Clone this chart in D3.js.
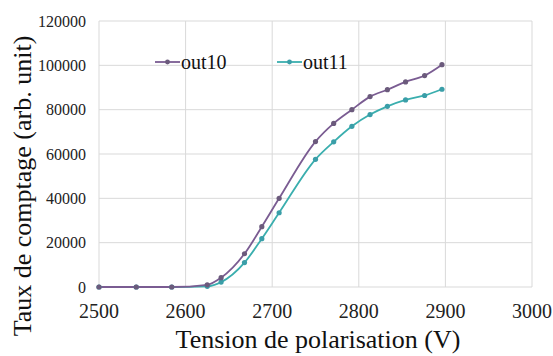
<!DOCTYPE html>
<html><head><meta charset="utf-8">
<script src="https://cdn.jsdelivr.net/npm/d3@7"></script>
<style>#c text{font-family:"Liberation Serif","Times New Roman",serif !important;}</style>
</head><body style="margin:0">
<svg id="c" width="553" height="356"></svg>
<script>
const voltages = [2500, 2543, 2584, 2625, 2641, 2668, 2688, 2708, 2750, 2771, 2792, 2813, 2833, 2854, 2876, 2896];
const out10 = [0, 0, 0, 1000, 4200, 15000, 27200, 40000, 65600, 73800, 80000, 85900, 89000, 92500, 95400, 100300];
const out11 = [0, 0, 0, 300, 2200, 11000, 21800, 33500, 57600, 65500, 72500, 77800, 81500, 84400, 86400, 89200];
const seriesNames = ["out10", "out11"];
const xTicks = [2500, 2600, 2700, 2800, 2900, 3000];
const yTicks = [0, 20000, 40000, 60000, 80000, 100000, 120000];
const xTitle = "Tension de polarisation (V)";
const yTitle = "Taux de comptage (arb. unit)";

const colors = {out10: "#7a5c92", out11: "#3aaeae"};
const markerColors = {out10: "#6b5a7c", out11: "#3a9ea8"};
const seriesData = {out10, out11};

const svg = d3.select("#c");
const x = d3.scaleLinear().domain([2500, 3000]).range([99, 532]);
const y = d3.scaleLinear().domain([0, 120000]).range([287, 21]);
const FONT = '"Liberation Serif", "Times New Roman", serif';

function addText(sel, size) {
  return sel.attr("font-family", FONT).style("font-family", FONT, "important").style("font-size", size + "px");
}

// grid
svg.append("g").selectAll("line").data(yTicks).join("line")
  .attr("x1", x(2500)).attr("x2", x(3000))
  .attr("y1", d => y(d)).attr("y2", d => y(d))
  .attr("stroke", "#d9d9d9").attr("stroke-width", 1);
svg.append("g").selectAll("line").data(xTicks).join("line")
  .attr("y1", y(0)).attr("y2", y(120000))
  .attr("x1", d => x(d)).attr("x2", d => x(d))
  .attr("stroke", "#d9d9d9").attr("stroke-width", 1);

// tick labels via scales
svg.append("g").selectAll("text").data(xTicks).join("text")
  .attr("x", d => x(d)).attr("y", 318).attr("text-anchor", "middle").attr("fill", "#222")
  .call(addText, 20).text(d => d);
svg.append("g").selectAll("text").data(yTicks).join("text")
  .attr("x", 86).attr("y", d => y(d)).attr("dy", "0.35em").attr("text-anchor", "end").attr("fill", "#222")
  .call(addText, 16).text(d => d);

// titles
svg.append("text").attr("x", 318).attr("y", 348).attr("text-anchor", "middle").attr("fill", "#111")
  .call(addText, 26).text(xTitle);
svg.append("text").attr("transform", "translate(31,186) rotate(-90)").attr("text-anchor", "middle").attr("fill", "#111")
  .call(addText, 26).text(yTitle);

// lines
const line = d3.line().x((d, i) => x(voltages[i])).y(d => y(d)).curve(d3.curveMonotoneX);
seriesNames.slice().reverse().forEach(name => {
  svg.append("path").datum(seriesData[name]).attr("d", line)
    .attr("fill", "none").attr("stroke", colors[name]).attr("stroke-width", 1.8);
});
seriesNames.slice().reverse().forEach(name => {
  svg.append("g").selectAll("circle").data(seriesData[name]).join("circle")
    .attr("cx", (d, i) => x(voltages[i])).attr("cy", d => y(d)).attr("r", 2.6)
    .attr("fill", markerColors[name]);
});

// legend
const legendX = [155, 277];
seriesNames.forEach((name, i) => {
  const g = svg.append("g").attr("transform", `translate(${legendX[i]},62)`);
  g.append("line").attr("x1", 0).attr("x2", 25).attr("y1", 0).attr("y2", 0)
    .attr("stroke", colors[name]).attr("stroke-width", 1.8);
  g.append("circle").attr("cx", 12.5).attr("cy", 0).attr("r", 2.4).attr("fill", markerColors[name]);
  g.append("text").attr("x", 26).attr("y", 0).attr("dy", "0.35em").attr("fill", "#111")
    .call(addText, 20).text(name);
});
</script>
</body></html>
